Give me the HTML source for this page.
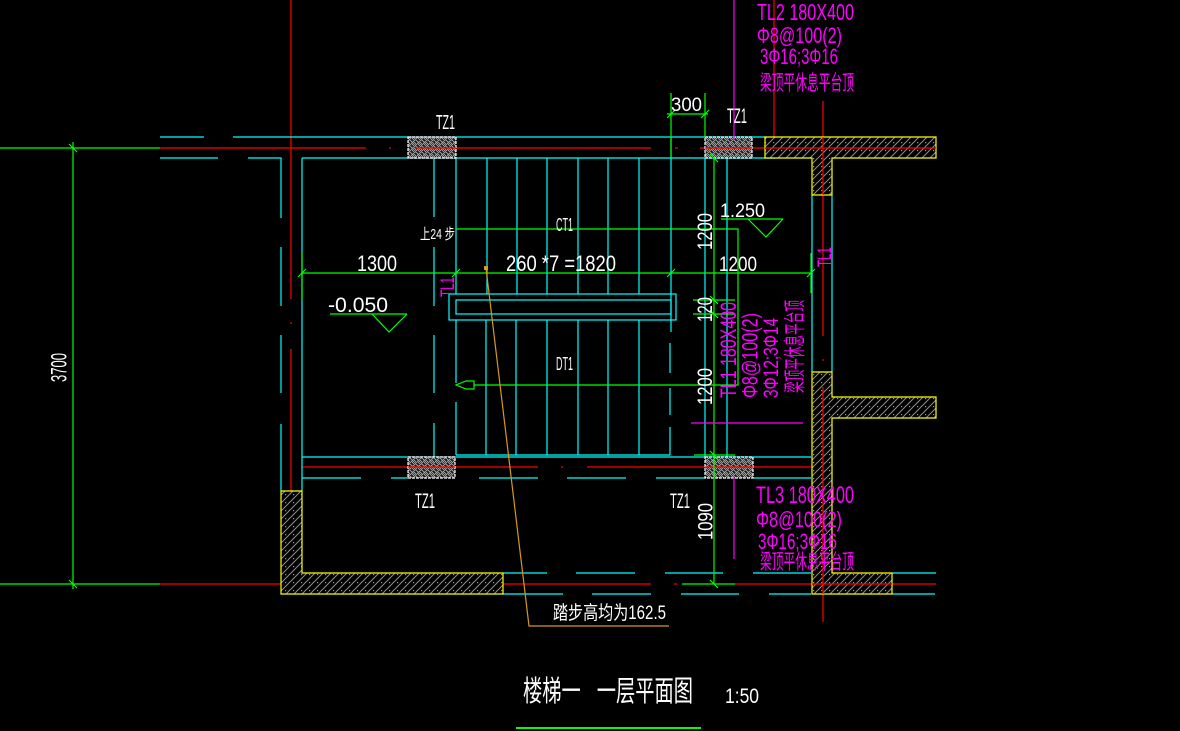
<!DOCTYPE html>
<html><head><meta charset="utf-8"><style>
html,body{margin:0;padding:0;background:#000;width:1180px;height:731px;overflow:hidden}
svg{display:block}
text{font-family:"Liberation Sans","Noto Sans CJK SC",sans-serif}
</style></head><body>
<svg width="1180" height="731" viewBox="0 0 1180 731" xmlns="http://www.w3.org/2000/svg">
<defs>
<pattern id="h" width="8" height="8" patternUnits="userSpaceOnUse">
<rect width="8" height="8" fill="#000"/>
<path d="M0,8 L8,0 M-2,2 L2,-2 M6,10 L10,6" stroke="#8c8c8c" stroke-width="1"/>
<rect x="5" y="6" width="1.2" height="1.2" fill="#9a9a9a"/>
</pattern>
<pattern id="n" width="6" height="6" patternUnits="userSpaceOnUse">
<rect width="6" height="6" fill="#1a1a1a"/>
<path d="M0,0 L3,3 M3,0 L0,3 M3,3 L6,6 M6,3 L3,6 M4,0 L6,2 M0,4 L2,6" stroke="#a8a8a8" stroke-width="0.9"/>
</pattern>
</defs>
<rect width="1180" height="731" fill="#000"/>

<g fill="none" stroke-width="1.2">
<path stroke="#f00" d="M160,148 H366 M389,148 H391 M415,148 H651 M675,148 H678 M700,148 H936
M291,0 V299 M291,322 V324 M291,349 V584
M160,584 H367 M389,584 H391 M416,584 H651 M674,584 H677 M735,584 H936
M302,467 H538 M561,467 H563 M587,467 H811
M774,0 V148 M823,101 V336 M823,359 V361 M823,387 V622"/>
<path stroke="#0f0" d="M0,148 H160 M0,584 H160 M73,142 V589 M69,144 L77,152 M69,580 L77,588"/>

<path stroke="#0ff" d="M160,137 H204 M233,137 H765
M160,158 H218 M248,158 H281 V218 M281,247 V306 M281,335 V393 M281,424 V491
M302,158 H775 M302,158 V491
M302,457 H811 M456,455 H670
M302,478 H361 M391,478 H408 M479,478 H538 M567,478 H626 M656,478 H705 M753,478 H811
M503,573 H547 M576,573 H635 M665,573 H723 M753,573 H811 M892,573 H936
M503,594 H563 M592,594 H651 M681,594 H739 M769,594 H811 M892,594 H935
M812,195 V372 M832,195 V372
M434,158 V217 M434,247 V306 M434,335 V393 M434,423 V457
M456,158 V294 M456,320 V383 M456,402 V455
M487,158 V294 M517,158 V294 M547,158 V294 M578,158 V294 M608,158 V294 M639,158 V294
M671,137 V332 M670,343 V373 M670,388 V415 M670,427 V455
M486,320 V455 M516,320 V455 M547,320 V455 M578,320 V455 M608,320 V455 M639,320 V455
M456,158 H671
M705,158 V457 M727,158 V457"/>
<rect x="449" y="294" width="227" height="26" stroke="#0ff"/>
<rect x="456" y="300" width="215" height="14" stroke="#0ff"/>

<path d="M281,491 H302 V573 H503 V594 H281 Z" fill="url(#h)" stroke="#ff0"/>
<path d="M765,137 H936 V158 H832 V195 H812 V158 H765 Z" fill="url(#h)" stroke="#ff0"/>
<path d="M812,372 H832 V397 H936 V418 H832 V573 H892 V594 H812 Z" fill="url(#h)" stroke="#ff0"/>
<path stroke="#f00" d="M765,148 H936 M823,137 V195 M823,387 V594 M812,584 H892"/>

<rect x="408" y="137" width="48" height="21" fill="url(#n)" stroke="#fff" stroke-dasharray="3,1"/>
<rect x="705" y="137" width="47" height="21" fill="url(#n)" stroke="#fff" stroke-dasharray="3,1"/>
<rect x="408" y="457" width="47" height="21" fill="url(#n)" stroke="#fff" stroke-dasharray="3,1"/>
<rect x="705" y="457" width="48" height="21" fill="url(#n)" stroke="#fff" stroke-dasharray="3,1"/>
<path stroke="#f00" d="M415,148 H456 M705,148 H752 M408,467 H455 M705,467 H753"/>

<path stroke="#0f0" d="M302,273 H811 M302,253 V300 M811,253 V293
M298,277 L306,269 M452,277 L460,269 M667,277 L675,269 M807,277 L815,269
M667,114 H708 M671,93 V158 M705,93 V137 M667,118 L675,110 M701,118 L709,110
M714,158 V584 M693,300 H735 M693,314 H735 M694,455 H735 M682,584 H735
M710,154 L718,162 M710,296 L718,304 M710,310 L718,318 M710,451 L718,459 M710,580 L718,588
M456,229 H738 V385 H474
M474,381 L466,381 L456,385 L466,389 L474,389 Z
M330,314 H407 M372,314 L389,332 L407,314
M721,219 H783 M748,219 L766,237 L783,219"/>
<path stroke="#0f0" stroke-width="2" d="M516,728 H701"/>

<path stroke="#f0f" d="M734,0 V140 M691,423 H803 M734,478 V559"/>
<path stroke="#d69a1e" d="M486,268 L529,626 H669"/>
<rect x="484" y="266" width="4" height="4" fill="#d69a1e"/>
</g>

<g fill="#fff">
<text x="436" y="129" font-size="20" textLength="19" lengthAdjust="spacingAndGlyphs">TZ1</text>
<text x="727" y="123" font-size="21" textLength="20" lengthAdjust="spacingAndGlyphs">TZ1</text>
<text x="671" y="111" font-size="19" textLength="31" lengthAdjust="spacingAndGlyphs">300</text>
<text x="720" y="217" font-size="19" textLength="45" lengthAdjust="spacingAndGlyphs">1.250</text>
<text x="556" y="231" font-size="18" textLength="17" lengthAdjust="spacingAndGlyphs">CT1</text>
<text x="420" y="239" font-size="15" textLength="35" lengthAdjust="spacingAndGlyphs">上24&#160;步</text>
<text x="357" y="271" font-size="22" textLength="40" lengthAdjust="spacingAndGlyphs">1300</text>
<text x="506" y="271" font-size="22" textLength="110" lengthAdjust="spacingAndGlyphs">260 *7 =1820</text>
<text x="719" y="271" font-size="21" textLength="38" lengthAdjust="spacingAndGlyphs">1200</text>
<text x="328" y="312" font-size="21" textLength="60" lengthAdjust="spacingAndGlyphs">-0.050</text>
<text x="556" y="370" font-size="18" textLength="17" lengthAdjust="spacingAndGlyphs">DT1</text>
<text x="415" y="508" font-size="21" textLength="20" lengthAdjust="spacingAndGlyphs">TZ1</text>
<text x="670" y="508" font-size="21" textLength="20" lengthAdjust="spacingAndGlyphs">TZ1</text>
<text x="553" y="619" font-size="19" textLength="113" lengthAdjust="spacingAndGlyphs">踏步高均为162.5</text>
<text x="523" y="701" font-size="29" textLength="170" lengthAdjust="spacingAndGlyphs">楼梯一&#160;&#160;&#160;一层平面图</text>
<text x="725" y="703" font-size="21" textLength="34" lengthAdjust="spacingAndGlyphs">1:50</text>
<text transform="translate(58.5,367.5) rotate(-90)" x="-14.5" y="8" font-size="22" textLength="29" lengthAdjust="spacingAndGlyphs">3700</text>
<text transform="translate(704.5,231.5) rotate(-90)" x="-18.5" y="7.5" font-size="21" textLength="37" lengthAdjust="spacingAndGlyphs">1200</text>
<text transform="translate(704.5,309.5) rotate(-90)" x="-12.5" y="7.5" font-size="21" textLength="25" lengthAdjust="spacingAndGlyphs">120</text>
<text transform="translate(704.5,386.5) rotate(-90)" x="-18.5" y="7.5" font-size="21" textLength="37" lengthAdjust="spacingAndGlyphs">1200</text>
<text transform="translate(705,521.5) rotate(-90)" x="-18.5" y="7.5" font-size="21" textLength="37" lengthAdjust="spacingAndGlyphs">1090</text>
</g>

<g fill="#f0f">
<text x="757" y="20" font-size="23" textLength="97" lengthAdjust="spacingAndGlyphs">TL2 180X400</text>
<text x="757" y="43" font-size="22" textLength="85" lengthAdjust="spacingAndGlyphs">Φ8@100(2)</text>
<text x="760" y="64" font-size="22" textLength="78" lengthAdjust="spacingAndGlyphs">3Φ16;3Φ16</text>
<text x="760" y="90" font-size="21" textLength="94" lengthAdjust="spacingAndGlyphs">梁顶平休息平台顶</text>

<text x="756" y="503" font-size="24" textLength="98" lengthAdjust="spacingAndGlyphs">TL3 180X400</text>
<text x="756" y="527" font-size="22" textLength="86" lengthAdjust="spacingAndGlyphs">Φ8@100(2)</text>
<text x="758" y="549" font-size="22" textLength="79" lengthAdjust="spacingAndGlyphs">3Φ16;3Φ16</text>
<text x="760" y="569" font-size="21" textLength="94" lengthAdjust="spacingAndGlyphs">梁顶平休息平台顶</text>

<text transform="translate(447,287) rotate(-90)" x="-10" y="7" font-size="19" textLength="20" lengthAdjust="spacingAndGlyphs">TL1</text>
<text transform="translate(824,257) rotate(-90)" x="-10" y="7" font-size="19" textLength="20" lengthAdjust="spacingAndGlyphs">TL1</text>

<text transform="translate(728,350) rotate(-90)" x="-48" y="8" font-size="22" textLength="96" lengthAdjust="spacingAndGlyphs">TL1 180X400</text>
<text transform="translate(749.5,355.5) rotate(-90)" x="-42.5" y="8" font-size="22" textLength="85" lengthAdjust="spacingAndGlyphs">Φ8@100(2)</text>
<text transform="translate(771,358) rotate(-90)" x="-40" y="7" font-size="21" textLength="80" lengthAdjust="spacingAndGlyphs">3Φ12;3Φ14</text>
<text transform="translate(794.5,346.5) rotate(-90)" x="-46.5" y="8" font-size="22" textLength="93" lengthAdjust="spacingAndGlyphs">梁顶平休息平台顶</text>
</g>
</svg>
</body></html>
